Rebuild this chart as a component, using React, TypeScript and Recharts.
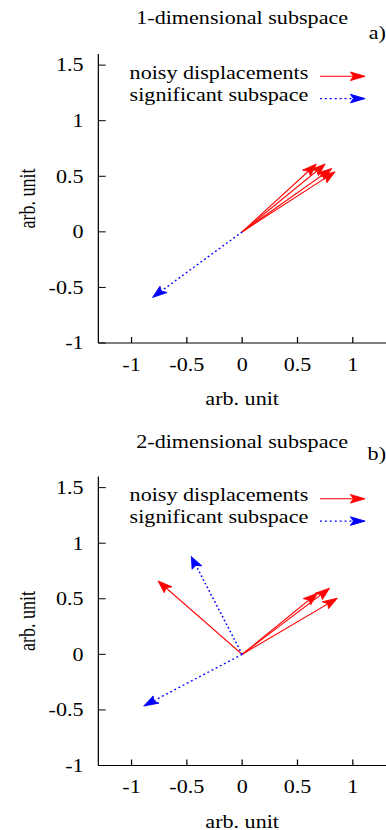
import React from 'react';
import { ScatterChart, XAxis, YAxis, ReferenceLine, Legend } from 'recharts';

// the reference is a gnuplot figure stretched sideways, so the charts are drawn narrow and scaled in x
const W = 314;
const H = 415;
const SX = 386 / W;
const FONT = '"Liberation Serif", "Times New Roman", serif';
const FS = 18;

const xTicks = [-1, -0.5, 0, 0.5, 1];
const yTicks = [-1, -0.5, 0, 0.5, 1, 1.5];
const xDomain = [-1.3, 1.3];
const yDomain = [-1, 1.6];

const titles = ['1-dimensional subspace', '2-dimensional subspace'];
const panelTags = ['a)', 'b)'];
const axisLabel = 'arb. unit';
const legendLabels = ['noisy displacements', 'significant subspace'];

// arrow tips, all arrows start at the origin
const noisyA = [
  { x: 0.67, y: 0.61 },
  { x: 0.75, y: 0.61 },
  { x: 0.81, y: 0.57 },
  { x: 0.84, y: 0.54 },
];
const subspaceA = [{ x: -0.81, y: -0.59 }];

const noisyB = [
  { x: 0.68, y: 0.55 },
  { x: 0.79, y: 0.595 },
  { x: 0.86, y: 0.505 },
  { x: -0.76, y: 0.66 },
];
const subspaceB = [
  { x: -0.46, y: 0.88 },
  { x: -0.89, y: -0.465 },
];

const RED = '#ff0000';
const BLUE = '#0000ff';
const DOTS = '1.6 2.4';

function ArrowGlyph({ x1, y1, x2, y2, color, dash }) {
  if (![x1, y1, x2, y2].every((v) => Number.isFinite(v))) return <g />;
  const dx = x2 - x1;
  const dy = y2 - y1;
  const len = Math.hypot(dx, dy) || 1;
  const ux = dx / len;
  const uy = dy / len;
  const L = 12;
  const Wd = 4.3;
  const N = 9.5;
  const bx = x2 - ux * L;
  const by = y2 - uy * L;
  const nx = x2 - ux * N;
  const ny = y2 - uy * N;
  const pts = `${x2},${y2} ${bx - uy * Wd},${by + ux * Wd} ${nx},${ny} ${bx + uy * Wd},${by - ux * Wd}`;
  return (
    <g>
      <line x1={x1} y1={y1} x2={nx} y2={ny} stroke={color} strokeWidth={dash ? 1.3 : 1} strokeDasharray={dash} />
      <polygon points={pts} fill={color} stroke={color} strokeWidth={0.8} strokeLinejoin="round" />
    </g>
  );
}

const arrowShape = (color, dash) => (p) => (
  <ArrowGlyph x1={p.x1} y1={p.y1} x2={p.x2} y2={p.y2} color={color} dash={dash} />
);

const tickStyle = { fill: '#000', fontSize: FS, fontFamily: FONT, style: { fontFamily: FONT } };

function LegendBox({ plotTop }) {
  const rows = [
    { label: legendLabels[0], color: RED, dash: undefined, dy: 24.7, ly: 22.3 },
    { label: legendLabels[1], color: BLUE, dash: DOTS, dy: 46.7, ly: 44.6 },
  ];
  return (
    <svg width={W} height={plotTop + 60} style={{ display: 'block' }}>
      {rows.map((r) => (
        <g key={r.label}>
          <text x={250.8} y={plotTop + r.dy} textAnchor="end" fontSize={FS} fontFamily={FONT} fill="#000">
            {r.label}
          </text>
          <ArrowGlyph x1={260.3} y1={plotTop + r.ly} x2={297} y2={plotTop + r.ly} color={r.color} dash={r.dash} />
        </g>
      ))}
    </svg>
  );
}

function Panel({ noisy, subspace, plotTop, bottomGap }) {
  return (
    <ScatterChart
      width={W}
      height={H}
      margin={{ top: plotTop, right: 0, bottom: bottomGap, left: 20 }}
      style={{ fontFamily: FONT }}
    >
      <XAxis
        xAxisId="x"
        type="number"
        dataKey="x"
        domain={xDomain}
        ticks={xTicks}
        allowDataOverflow
        interval={0}
        height={40}
        tickSize={-6}
        tickMargin={21}
        stroke="#000"
        tick={tickStyle}
        label={{ value: axisLabel, position: 'bottom', offset: 9.5, fill: '#000', fontSize: FS, fontFamily: FONT }}
      />
      <XAxis
        xAxisId="xt"
        orientation="top"
        type="number"
        domain={xDomain}
        ticks={xTicks}
        allowDataOverflow
        interval={0}
        height={0}
        tickSize={-6}
        tick={false}
        stroke="#000"
      />
      <YAxis
        yAxisId="y"
        type="number"
        dataKey="y"
        domain={yDomain}
        ticks={yTicks}
        allowDataOverflow
        interval={0}
        width={60}
        tickSize={-6}
        tickMargin={18}
        stroke="#000"
        tick={tickStyle}
        label={{
          value: axisLabel,
          angle: -90,
          position: 'insideLeft',
          offset: 2.1,
          fill: '#000',
          fontSize: FS,
          fontFamily: FONT,
          style: { textAnchor: 'middle' },
        }}
      />
      <YAxis
        yAxisId="yr"
        orientation="right"
        type="number"
        domain={yDomain}
        ticks={yTicks}
        allowDataOverflow
        interval={0}
        width={0}
        tickSize={-6}
        tick={false}
        stroke="#000"
      />
      {noisy.map((v, i) => (
        <ReferenceLine
          key={'n' + i}
          xAxisId="x"
          yAxisId="y"
          segment={[{ x: 0, y: 0 }, { x: v.x, y: v.y }]}
          shape={arrowShape(RED)}
        />
      ))}
      {subspace.map((v, i) => (
        <ReferenceLine
          key={'s' + i}
          xAxisId="x"
          yAxisId="y"
          segment={[{ x: 0, y: 0 }, { x: v.x, y: v.y }]}
          shape={arrowShape(BLUE, DOTS)}
        />
      ))}
      <Legend
        layout="horizontal"
        align="center"
        verticalAlign="middle"
        wrapperStyle={{ left: 0, top: 0, width: W, height: plotTop + 60 }}
        content={() => <LegendBox plotTop={plotTop} />}
      />
    </ScatterChart>
  );
}

export default function App() {
  return (
    <div
      style={{
        position: 'absolute',
        left: 0,
        top: 0,
        width: W,
        height: 830,
        transform: `scaleX(${SX})`,
        transformOrigin: '0 0',
        background: '#fff',
        fontFamily: FONT,
      }}
    >
      <div style={{ position: 'absolute', left: 0, top: 0 }}>
        <Panel noisy={noisyA} subspace={subspaceA} plotTop={54} bottomGap={32} />
      </div>
      <div style={{ position: 'absolute', left: 0, top: H }}>
        <Panel noisy={noisyB} subspace={subspaceB} plotTop={61.5} bottomGap={24.5} />
      </div>
      <svg width={W} height={830} style={{ position: 'absolute', left: 0, top: 0, pointerEvents: 'none' }}>
        <text x={197} y={24.5} textAnchor="middle" fontSize={FS} fontFamily={FONT} fill="#000">
          {titles[0]}
        </text>
        <text x={W} y={39} textAnchor="end" fontSize={FS} fontFamily={FONT} fill="#000">
          {panelTags[0]}
        </text>
        <text x={197} y={448} textAnchor="middle" fontSize={FS} fontFamily={FONT} fill="#000">
          {titles[1]}
        </text>
        <text x={W} y={460} textAnchor="end" fontSize={FS} fontFamily={FONT} fill="#000">
          {panelTags[1]}
        </text>
      </svg>
    </div>
  );
}
